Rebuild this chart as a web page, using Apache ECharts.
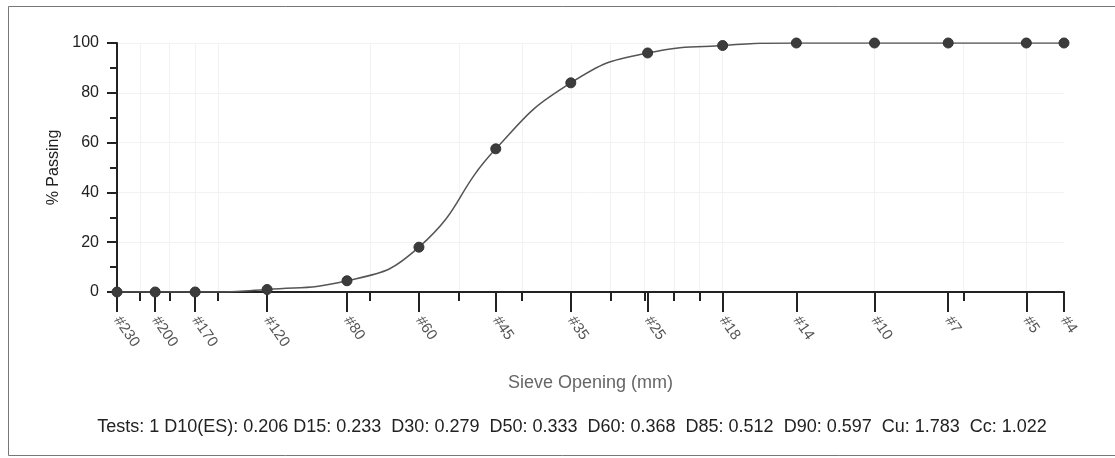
<!DOCTYPE html>
<html>
<head>
<meta charset="utf-8">
<script src="https://cdn.jsdelivr.net/npm/echarts@6/dist/echarts.min.js"></script>
<style>
html,body{margin:0;padding:0;background:#fff;}
#chart{width:1115px;height:458px;}
</style>
</head>
<body>
<div id="chart"></div>
<script>
// Sieve designations and their openings (mm)
const sieveLabels = ['#230','#200','#170','#120','#80','#60','#45','#35','#25','#18','#14','#10','#7','#5','#4'];
const sieveOpenings = [0.063,0.075,0.090,0.125,0.180,0.250,0.355,0.500,0.710,1.00,1.40,2.00,2.80,4.00,4.75];
// % passing
const percentPassing = [0,0,0,1,4.5,18,57.5,84,96,99,100,100,100,100,100];
// minor log ticks on the x axis
const minorTicks = [0.07,0.08,0.09,0.1,0.2,0.3,0.4,0.5,0.6,0.7,0.8,0.9,1,2,3,4];
const yTicks = [0,20,40,60,80,100];
const summaryText = 'Tests: 1 D10(ES): 0.206 D15: 0.233  D30: 0.279  D50: 0.333  D60: 0.368  D85: 0.512  D90: 0.597  Cu: 1.783  Cc: 1.022';

const labelOf = {};
sieveOpenings.forEach((v,i)=>{ labelOf[v.toFixed(3)] = sieveLabels[i]; });

const chart = echarts.init(document.getElementById('chart'), null, {renderer:'canvas'});
const font = 'Liberation Sans, Arial, sans-serif';
const xMin = sieveOpenings[0], xMax = sieveOpenings[sieveOpenings.length-1];

chart.setOption({
  animation:false,
  backgroundColor:'#fff',
  textStyle:{fontFamily:font},
  title:{
    text:summaryText, left:567, textAlign:'center', top:413,
    textStyle:{fontSize:18, fontWeight:'normal', color:'#222', fontFamily:font}
  },
  graphic:[{
    type:'rect', shape:{x:8.5,y:6.5,width:1112,height:449},
    style:{fill:'none', stroke:'#777', lineWidth:1}, silent:true, z:-1
  }],
  grid:{left:117, right:51, top:43, bottom:166},
  xAxis:[{
    type:'log', logBase:10, min:xMin, max:xMax,
    name:'Sieve Opening (mm)', nameLocation:'middle', nameGap:82,
    nameTextStyle:{fontSize:18, color:'#666', fontFamily:font},
    axisLine:{show:true, lineStyle:{color:'#222', width:2}},
    axisTick:{show:true, inside:false, length:20, customValues:sieveOpenings, lineStyle:{color:'#222', width:2}},
    axisLabel:{show:true, customValues:sieveOpenings, rotate:-55, margin:26, fontSize:15, color:'#555', fontFamily:font,
      formatter:function(v){ return labelOf[Number(v).toFixed(3)] || ''; }},
    splitLine:{show:false},
    minorTick:{show:false}, minorSplitLine:{show:false}
  },{
    type:'log', logBase:10, min:xMin, max:xMax, position:'bottom',
    axisLine:{show:false},
    axisTick:{show:true, length:9, customValues:minorTicks, lineStyle:{color:'#222', width:2}},
    axisLabel:{show:false},
    splitLine:{show:true, lineStyle:{color:'#f2f2f2', width:1}}
  }],
  yAxis:{
    type:'value', min:0, max:100, interval:20,
    name:'% Passing', nameLocation:'middle', nameGap:46, nameRotate:90,
    nameTextStyle:{fontSize:16, color:'#222', fontFamily:font},
    axisLine:{show:true, lineStyle:{color:'#222', width:2}},
    axisTick:{show:true, length:10, lineStyle:{color:'#222', width:2}},
    minorTick:{show:true, splitNumber:2, length:7, lineStyle:{color:'#222', width:2}},
    axisLabel:{fontSize:16, color:'#222', margin:18, fontFamily:font,
      customValues:yTicks},
    splitLine:{show:true, lineStyle:{color:'#f2f2f2', width:1}}
  },
  series:[{
    type:'line', xAxisIndex:0,
    data:sieveOpenings.map((x,i)=>[x, percentPassing[i]]),
    smooth:0.5,
    symbol:'circle', symbolSize:10,
    lineStyle:{color:'#555', width:1.5},
    itemStyle:{color:'#3c3c3c', borderColor:'#333', borderWidth:1},
    z:5
  }]
});
</script>
</body>
</html>
